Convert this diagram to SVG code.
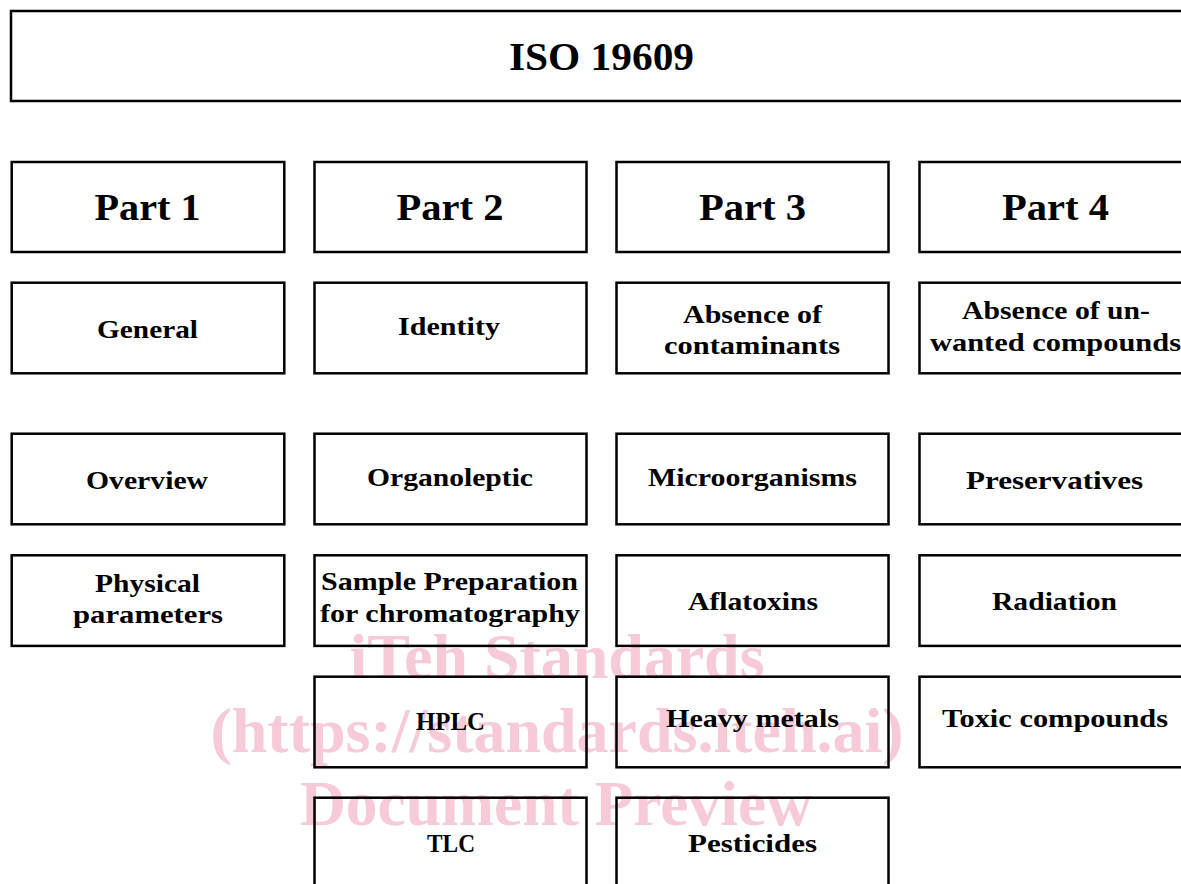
<svg xmlns="http://www.w3.org/2000/svg" width="1181" height="884" viewBox="0 0 1181 884">
<style>
.box{fill:none;stroke:#000;stroke-width:2.5}
.t{font-family:"Liberation Serif","Times New Roman",serif;font-weight:bold;fill:#000;text-anchor:middle}
.lbl{font-size:26px}
.part{font-size:38px}
.title{font-size:40px}
.wm{font-family:"Liberation Serif","Times New Roman",serif;font-weight:bold;fill:#f6cad6;text-anchor:middle;font-size:64px}
</style>
<rect width="1181" height="884" fill="#fff"/>
<g id="watermark">
<text class="wm" x="557" y="678" textLength="415" lengthAdjust="spacingAndGlyphs">iTeh Standards</text>
<text class="wm" x="557" y="752" textLength="693" lengthAdjust="spacingAndGlyphs">(https://standards.iteh.ai)</text>
<text class="wm" x="556" y="825" textLength="512" lengthAdjust="spacingAndGlyphs">Document Preview</text>
</g>
<g id="connectors"></g>
<g id="iso19609"><rect class="box" x="11" y="11" width="1182" height="90"/><text class="t title" x="601.5" y="69.5" textLength="185" lengthAdjust="spacingAndGlyphs">ISO 19609</text></g>

<g id="part1"><rect class="box" x="11.7" y="162" width="272.6" height="90"/><text class="t part" x="147.5" y="219.5" textLength="106" lengthAdjust="spacingAndGlyphs">Part 1</text></g>
<g id="part2"><rect class="box" x="314.5" y="162" width="272" height="90"/><text class="t part" x="450" y="219.5" textLength="107" lengthAdjust="spacingAndGlyphs">Part 2</text></g>
<g id="part3"><rect class="box" x="616.5" y="162" width="272" height="90"/><text class="t part" x="752.5" y="219.5" textLength="107" lengthAdjust="spacingAndGlyphs">Part 3</text></g>
<g id="part4"><rect class="box" x="919.5" y="162" width="273" height="90"/><text class="t part" x="1055.5" y="219.5" textLength="107" lengthAdjust="spacingAndGlyphs">Part 4</text></g>

<g id="general"><rect class="box" x="11.7" y="282.7" width="272.6" height="90.6"/><text class="t lbl" x="147.5" y="338" textLength="101" lengthAdjust="spacingAndGlyphs">General</text></g>
<g id="identity"><rect class="box" x="314.5" y="282.7" width="272" height="90.6"/><text class="t lbl" x="449" y="335" textLength="102" lengthAdjust="spacingAndGlyphs">Identity</text></g>
<g id="contaminants"><rect class="box" x="616.5" y="282.7" width="272" height="90.6"/><text class="t lbl" x="752.5" y="323" textLength="139" lengthAdjust="spacingAndGlyphs">Absence of</text><text class="t lbl" x="752" y="354" textLength="176" lengthAdjust="spacingAndGlyphs">contaminants</text></g>
<g id="unwanted"><rect class="box" x="919.5" y="282.7" width="273" height="90.6"/><text class="t lbl" x="1056" y="319" textLength="188" lengthAdjust="spacingAndGlyphs">Absence of un-</text><text class="t lbl" x="1055.5" y="350.5" textLength="251" lengthAdjust="spacingAndGlyphs">wanted compounds</text></g>

<g id="overview"><rect class="box" x="11.7" y="433.7" width="272.6" height="90.6"/><text class="t lbl" x="147" y="489" textLength="122" lengthAdjust="spacingAndGlyphs">Overview</text></g>
<g id="organoleptic"><rect class="box" x="314.5" y="433.7" width="272" height="90.6"/><text class="t lbl" x="450" y="486" textLength="166" lengthAdjust="spacingAndGlyphs">Organoleptic</text></g>
<g id="microorganisms"><rect class="box" x="616.5" y="433.7" width="272" height="90.6"/><text class="t lbl" x="752.5" y="486" textLength="209" lengthAdjust="spacingAndGlyphs">Microorganisms</text></g>
<g id="preservatives"><rect class="box" x="919.5" y="433.7" width="273" height="90.6"/><text class="t lbl" x="1054.5" y="489" textLength="177" lengthAdjust="spacingAndGlyphs">Preservatives</text></g>

<g id="physical"><rect class="box" x="11.7" y="555.3" width="272.6" height="90.6"/><text class="t lbl" x="147.5" y="591.5" textLength="105" lengthAdjust="spacingAndGlyphs">Physical</text><text class="t lbl" x="148" y="622.5" textLength="150" lengthAdjust="spacingAndGlyphs">parameters</text></g>
<g id="sampleprep"><rect class="box" x="314.5" y="555.3" width="272" height="90.6"/><text class="t lbl" x="449.5" y="590" textLength="257" lengthAdjust="spacingAndGlyphs">Sample Preparation</text><text class="t lbl" x="450" y="621.5" textLength="260" lengthAdjust="spacingAndGlyphs">for chromatography</text></g>
<g id="aflatoxins"><rect class="box" x="616.5" y="555.3" width="272" height="90.6"/><text class="t lbl" x="753" y="610" textLength="130" lengthAdjust="spacingAndGlyphs">Aflatoxins</text></g>
<g id="radiation"><rect class="box" x="919.5" y="555.3" width="273" height="90.6"/><text class="t lbl" x="1054.5" y="610" textLength="125" lengthAdjust="spacingAndGlyphs">Radiation</text></g>

<g id="hplc"><rect class="box" x="314.5" y="676.7" width="272" height="90.6"/><text class="t lbl" x="450.5" y="730" textLength="69" lengthAdjust="spacingAndGlyphs">HPLC</text></g>
<g id="heavymetals"><rect class="box" x="616.5" y="676.7" width="272" height="90.6"/><text class="t lbl" x="752.5" y="727" textLength="173" lengthAdjust="spacingAndGlyphs">Heavy metals</text></g>
<g id="toxic"><rect class="box" x="919.5" y="676.7" width="273" height="90.6"/><text class="t lbl" x="1055" y="727" textLength="226" lengthAdjust="spacingAndGlyphs">Toxic compounds</text></g>

<g id="tlc"><rect class="box" x="314.5" y="797.7" width="272" height="100"/><text class="t lbl" x="451" y="851.5" textLength="48" lengthAdjust="spacingAndGlyphs">TLC</text></g>
<g id="pesticides"><rect class="box" x="616.5" y="797.7" width="272" height="100"/><text class="t lbl" x="752.5" y="851.5" textLength="129" lengthAdjust="spacingAndGlyphs">Pesticides</text></g>
</svg>
